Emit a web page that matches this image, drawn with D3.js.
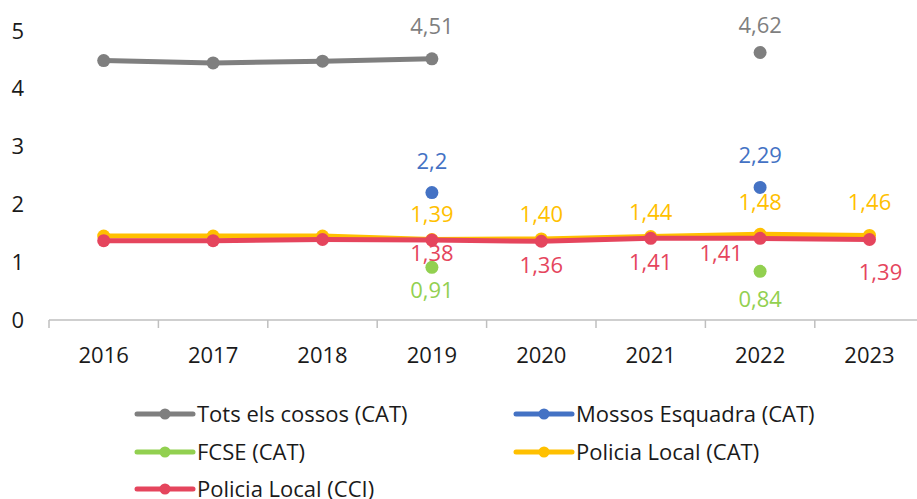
<!DOCTYPE html>
<html>
<head>
<meta charset="utf-8">
<script src="https://cdn.jsdelivr.net/npm/d3@7"></script>
<style>
  html, body { margin: 0; padding: 0; background: #fff; }
  svg { display: block; }
  text { font-family: "Open Sans", "Noto Sans", sans-serif; }
</style>
</head>
<body>
<svg id="chart" width="917" height="499"></svg>
<script>
// Years on the category axis
const years = ["2016", "2017", "2018", "2019", "2020", "2021", "2022", "2023"];
const yTicks = [0, 1, 2, 3, 4, 5];

// Series values (null = no data for that year)
const totsCossos     = [4.48, 4.44, 4.47, 4.51, null, null, 4.62, null];
const mossos         = [null, null, null, 2.2, null, null, 2.29, null];
const fcse           = [null, null, null, 0.91, null, null, 0.84, null];
const policiaLocalCat = [1.45, 1.45, 1.45, 1.39, 1.40, 1.44, 1.48, 1.46];
const policiaLocalCci = [1.37, 1.37, 1.39, 1.38, 1.36, 1.41, 1.41, 1.39];

const seriesNames = ["Tots els cossos (CAT)", "Mossos Esquadra (CAT)", "FCSE (CAT)",
                     "Policia Local (CAT)", "Policia Local (CCI)"];

const series = [
  { name: seriesNames[0], values: totsCossos, color: "#7F7F7F", fixed: false, labelFrom: 3 },
  { name: seriesNames[1], values: mossos, color: "#4472C4", fixed: false, labelFrom: 0 },
  { name: seriesNames[2], values: fcse, color: "#92D050", fixed: false, labelFrom: 0 },
  { name: seriesNames[3], values: policiaLocalCat, color: "#FFC000", fixed: true, labelFrom: 3 },
  { name: seriesNames[4], values: policiaLocalCci, color: "#E5455D", fixed: false, labelFrom: 3 }
];

// Label placement per series (dx, dy of baseline relative to the point)
const labelPlacement = {
  0: { 3: [0, -25], 6: [0, -20] },
  1: { 3: [0, -24], 6: [0, -24] },
  2: { 3: [0, 31], 6: [0, 36] },
  3: { 3: [0, -18], 4: [0, -17], 5: [0, -17], 6: [0, -24], 7: [0, -25] },
  4: { 3: [0, 21], 4: [0, 32], 5: [0, 32], 6: [-39, 23], 7: [11, 40] }
};

const FONT = 22;
const svg = d3.select("#chart");
const plotLeft = 49, band = 109.4;
const x = d3.scaleBand().domain(years).range([plotLeft, plotLeft + band * years.length]);
const y = d3.scaleLinear().domain([0, 5]).range([320, 30.5]);
const cx = d => x(d) + x.bandwidth() / 2;

// Category axis: baseline, tick marks between categories, year labels
const axisG = svg.append("g").attr("transform", `translate(0,${y(0)})`);
axisG.append("line")
  .attr("x1", plotLeft).attr("x2", 917).attr("y1", 0).attr("y2", 0)
  .attr("stroke", "#BFBFBF").attr("stroke-width", 1.5);
axisG.selectAll("line.tick")
  .data(d3.range(years.length + 1))
  .join("line").attr("class", "tick")
  .attr("x1", i => plotLeft + i * x.step()).attr("x2", i => plotLeft + i * x.step())
  .attr("y1", 0).attr("y2", 8)
  .attr("stroke", "#BFBFBF").attr("stroke-width", 1.5);
axisG.selectAll("text.year")
  .data(years)
  .join("text").attr("class", "year")
  .attr("x", d => cx(d)).attr("y", 43)
  .attr("text-anchor", "middle")
  .attr("font-size", FONT).attr("fill", "#1a1a1a")
  .text(d => d);

// Value axis labels (no axis line)
svg.append("g").selectAll("text")
  .data(yTicks)
  .join("text")
  .attr("x", 24).attr("y", d => y(d) + 8)
  .attr("text-anchor", "end")
  .attr("font-size", FONT).attr("fill", "#1a1a1a")
  .text(d => d);

const fmt = (v, fixed) => (fixed ? v.toFixed(2) : String(v)).replace(".", ",");

const line = d3.line()
  .defined(d => d.v != null)
  .x(d => cx(d.year)).y(d => y(d.v));

series.forEach((s, si) => {
  const pts = years.map((yr, i) => ({ year: yr, v: s.values[i], i }));
  const g = svg.append("g");
  g.append("path")
    .datum(pts)
    .attr("d", line)
    .attr("fill", "none")
    .attr("stroke", s.color).attr("stroke-width", 5)
    .attr("stroke-linejoin", "round").attr("stroke-linecap", "round");
  g.selectAll("circle")
    .data(pts.filter(d => d.v != null))
    .join("circle")
    .attr("cx", d => cx(d.year)).attr("cy", d => y(d.v))
    .attr("r", 6.5).attr("fill", s.color);
});

// Data labels drawn after all series so they sit on top
series.forEach((s, si) => {
  const pts = years.map((yr, i) => ({ year: yr, v: s.values[i], i }))
    .filter(d => d.v != null && d.i >= s.labelFrom);
  svg.append("g").selectAll("text")
    .data(pts)
    .join("text")
    .attr("x", d => cx(d.year) + ((labelPlacement[si][d.i] || [0, -24])[0]))
    .attr("y", d => y(d.v) + ((labelPlacement[si][d.i] || [0, -24])[1]))
    .attr("text-anchor", "middle")
    .attr("font-size", FONT).attr("fill", s.color)
    .text(d => fmt(d.v, s.fixed));
});

// Legend: two columns, three rows
const legendCols = [137, 516];
const legendRows = [414, 452, 489];
const legend = svg.append("g").selectAll("g")
  .data(series)
  .join("g")
  .attr("transform", (d, i) => `translate(${legendCols[i % 2]},${legendRows[Math.floor(i / 2)]})`);
legend.append("line")
  .attr("x1", 0).attr("x2", 56).attr("y1", 0).attr("y2", 0)
  .attr("stroke", d => d.color).attr("stroke-width", 5).attr("stroke-linecap", "round");
legend.append("circle")
  .attr("cx", 28).attr("cy", 0).attr("r", 5.5).attr("fill", d => d.color);
legend.append("text")
  .attr("x", 60).attr("y", 8)
  .attr("font-size", FONT).attr("fill", "#1a1a1a")
  .text(d => d.name);
</script>
</body>
</html>
